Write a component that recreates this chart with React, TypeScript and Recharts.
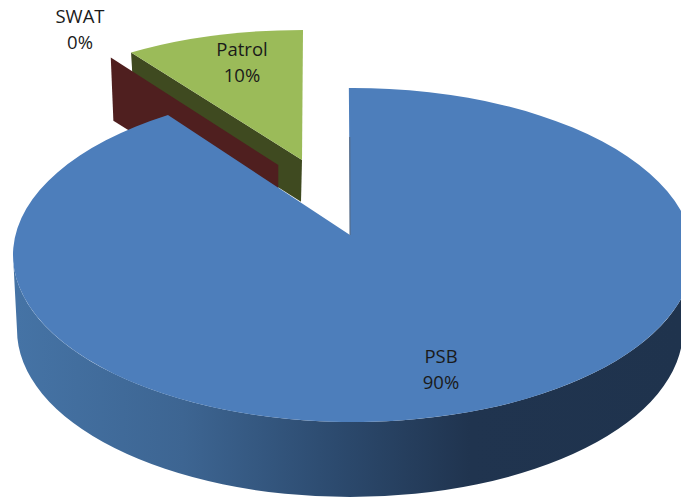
import React from 'react';
import { Pie, PieChart } from 'recharts';

// drawn back to front, so the exploded slices sit behind PSB
const categories = ['Patrol', 'SWAT', 'PSB'];
const shares = [10, 0, 90];
const percentLabels = ['10%', '0%', '90%'];

const data = categories.map((name, i) => ({ name, value: shares[i] }));

// how each slice is projected: tip of the wedge, ellipse of its top face, wall
const faces: Record<string, any> = {
  Patrol: { tip: [302, 160], c: [303, 148], rx: 292.5, ry: 118, top: '#9bbb59', wall: '#3f4a20', drop: [[2.5, 43], [-1, 41.7]] },
  SWAT: { tip: [278.3, 165], c: [278.3, 165], rx: 285, ry: 133, top: '#c0504d', wall: '#4f1f1f', drop: [[2.6, 63.4], [0, 59]] },
  PSB: { tip: [350, 235], c: [353, 255], rx: 340, ry: 167, top: '#4d7ebb', warp: 1.0115, shift: -0.7 },
};

const labelAt: Record<string, number[]> = {
  Patrol: [242, 56],
  SWAT: [80, 23],
  PSB: [441, 363],
};

const rad = Math.PI / 180;

function SliceShape(props: any) {
  const f = faces[props.name];
  const warp = f.warp ?? 1;
  const shift = f.shift ?? 0;
  const a = 450 - props.startAngle;
  const b = 450 - props.endAngle;
  const lo = Math.min(a, b);
  const hi = Math.max(a, b);
  const point = (t: number) => {
    const v = (t * warp + shift) * rad;
    return [f.c[0] + f.rx * Math.sin(v), f.c[1] - f.ry * Math.cos(v)];
  };
  const p0 = point(lo);
  const p1 = point(hi);
  const large = hi - lo > 180 ? 1 : 0;

  if (props.name === 'PSB') {
    // the rim ellipse is a bit narrower than the top face
    return (
      <g>
        <defs>
          <linearGradient id="rim" gradientUnits="userSpaceOnUse" x1="17" y1="0" x2="683" y2="0">
            <stop offset="0" stopColor="#4573a5" />
            <stop offset="0.25" stopColor="#3d6592" />
            <stop offset="0.48" stopColor="#2c4a6e" />
            <stop offset="0.68" stopColor="#20344f" />
            <stop offset="1" stopColor="#1f334d" />
          </linearGradient>
        </defs>
        <path d="M13 255 L17 330 A333 167 0 0 0 683 330 L693 255 A340 167 0 0 1 13 255 Z" fill="url(#rim)" />
        <path
          d={`M${f.tip[0]} ${f.tip[1]} L${p1[0]} ${p1[1]} A${f.rx} ${f.ry} 0 ${large} 0 ${p0[0]} ${p0[1]} Z`}
          fill={f.top}
        />
        <path d="M349.8 137 L350 235" stroke="#55677f" strokeWidth={1} fill="none" />
      </g>
    );
  }

  const wall = [
    f.tip,
    p0,
    [p0[0] + f.drop[0][0], p0[1] + f.drop[0][1]],
    [f.tip[0] + f.drop[1][0], f.tip[1] + f.drop[1][1]],
  ];
  return (
    <g>
      <path d={`M${wall.map((q) => q.join(' ')).join(' L')} Z`} fill={f.wall} />
      {hi > lo && (
        <path
          d={`M${f.tip[0]} ${f.tip[1]} L${p1[0]} ${p1[1]} A${f.rx} ${f.ry} 0 ${large} 0 ${p0[0]} ${p0[1]} Z`}
          fill={f.top}
        />
      )}
    </g>
  );
}

function SliceLabel(props: any) {
  const i = categories.indexOf(props.name);
  const [x, y] = labelAt[props.name];
  return (
    <text x={x} y={y} textAnchor="middle" fontFamily="Open Sans" fontSize={18.5} fill="#1a1a1a">
      <tspan x={x}>{props.name}</tspan>
      <tspan x={x} dy={26}>{percentLabels[i]}</tspan>
    </text>
  );
}

export default function App() {
  return (
    <div style={{ position: 'absolute', left: 0, top: 0, width: 681, height: 497, overflow: 'hidden' }}>
      <PieChart width={681} height={497} margin={{ top: 0, right: 0, bottom: 0, left: 0 }}>
        <Pie
          data={data}
          dataKey="value"
          nameKey="name"
          cx={350}
          cy={235}
          outerRadius={200}
          startAngle={90}
          endAngle={450}
          stroke="none"
          shape={SliceShape}
          label={SliceLabel}
          labelLine={false}
          isAnimationActive={false}
        />
      </PieChart>
    </div>
  );
}
